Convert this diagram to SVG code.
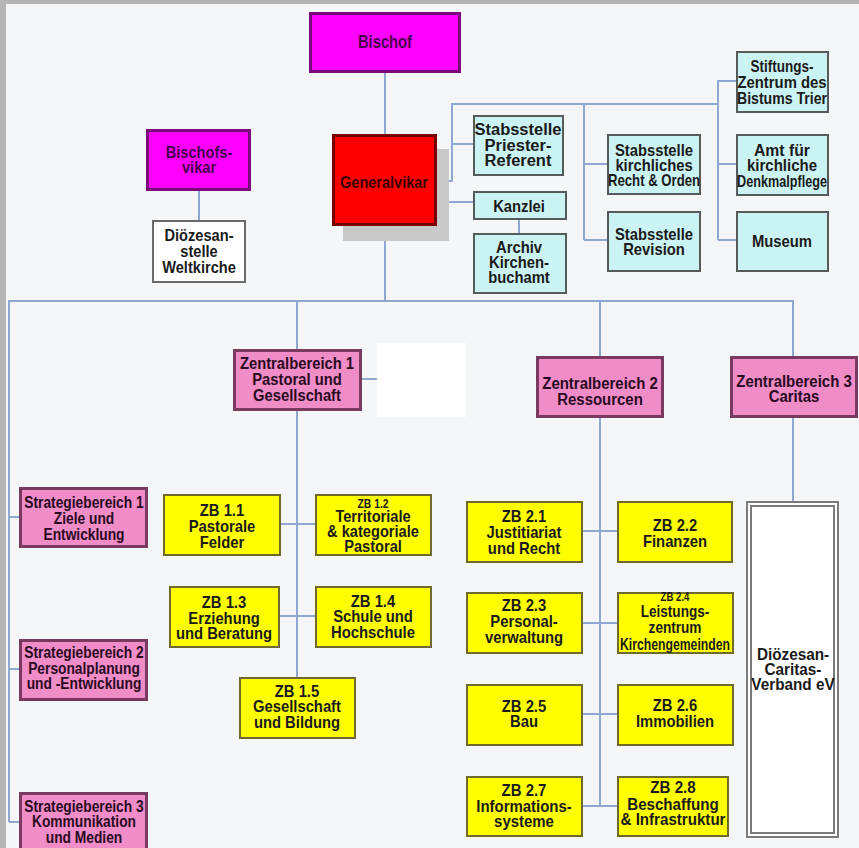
<svg xmlns="http://www.w3.org/2000/svg" width="859" height="848" viewBox="0 0 859 848">
<style>
.t{font-family:"Liberation Sans",Arial,sans-serif;font-weight:bold;font-size:17px;text-anchor:middle;fill:#1a1a1a}
.s{font-size:12px}
.mg{fill:#ff00ff;stroke:#7a0a7a;stroke-width:3}
.mgt{fill:#4a0050}
.red{fill:#ff0000;stroke:#7a0000;stroke-width:3}
.cy{fill:#ccf3f3;stroke:#555a5a;stroke-width:2}
.pk{fill:#f08cc6;stroke:#7a3a60;stroke-width:3}
.pkt{fill:#2a0a22}
.ye{fill:#ffff00;stroke:#6e6a2a;stroke-width:2}
.wh{fill:#ffffff;stroke:#6a6a6a;stroke-width:2}
.c line{stroke:#8ea8d2;stroke-width:2}
</style>
<rect x="0" y="0" width="859" height="848" fill="#b5b5b5"/>
<rect x="6" y="4" width="853" height="844" fill="#f4f6f8"/>
<g class="c">
<line x1="385" y1="73" x2="385" y2="134"/>
<line x1="385" y1="226" x2="385" y2="301"/>
<line x1="199" y1="191" x2="199" y2="220"/>
<line x1="9" y1="301" x2="793" y2="301"/>
<line x1="9" y1="300" x2="9" y2="822"/>
<line x1="9" y1="517" x2="19" y2="517"/>
<line x1="9" y1="669" x2="19" y2="669"/>
<line x1="9" y1="822" x2="19" y2="822"/>
<line x1="297" y1="301" x2="297" y2="349"/>
<line x1="297" y1="411" x2="297" y2="677"/>
<line x1="362" y1="379" x2="377" y2="379"/>
<line x1="281" y1="524" x2="315" y2="524"/>
<line x1="280" y1="616" x2="315" y2="616"/>
<line x1="600" y1="301" x2="600" y2="356"/>
<line x1="600" y1="418" x2="600" y2="806"/>
<line x1="583" y1="531" x2="617" y2="531"/>
<line x1="583" y1="623" x2="617" y2="623"/>
<line x1="583" y1="714" x2="617" y2="714"/>
<line x1="583" y1="806" x2="617" y2="806"/>
<line x1="793" y1="300" x2="793" y2="356"/>
<line x1="793" y1="418" x2="793" y2="501"/>
<line x1="437" y1="181" x2="452" y2="181"/>
<line x1="452" y1="103" x2="452" y2="182"/>
<line x1="451" y1="104" x2="719" y2="104"/>
<line x1="452" y1="144" x2="473" y2="144"/>
<line x1="437" y1="202" x2="473" y2="202"/>
<line x1="519" y1="220" x2="519" y2="233"/>
<line x1="584" y1="104" x2="584" y2="240"/>
<line x1="584" y1="164" x2="607" y2="164"/>
<line x1="584" y1="240" x2="607" y2="240"/>
<line x1="718" y1="80" x2="718" y2="240"/>
<line x1="718" y1="81" x2="736" y2="81"/>
<line x1="718" y1="164" x2="736" y2="164"/>
<line x1="718" y1="240" x2="736" y2="240"/>
</g>
<g id="bischof"><rect class="mg" x="310.5" y="13.5" width="149" height="58"/><g transform="translate(385 0) scale(0.82 1)"><text class="t mgt" x="0" y="48" style="font-size:18px">Bischof</text></g></g>
<g id="bischofsvikar"><rect class="mg" x="147.5" y="130.5" width="102" height="59"/><g transform="translate(199 0) scale(0.86 1)"><text class="t mgt" x="0" y="158">Bischofs-</text><text class="t mgt" x="0" y="173">vikar</text></g></g>
<g id="weltkirche"><rect class="wh" x="153" y="221" width="92" height="61"/><g transform="translate(199 0) scale(0.86 1)"><text class="t" x="0" y="241">Diözesan-</text><text class="t" x="0" y="257">stelle</text><text class="t" x="0" y="273">Weltkirche</text></g></g>
<g id="generalvikar"><rect x="343" y="149" width="106" height="92" fill="#c9c9c9"/><rect class="red" x="333.5" y="135.5" width="102" height="89"/><g transform="translate(384 0) scale(0.855 1)"><text class="t" x="0" y="188" style="fill:#3a0000">Generalvikar</text></g></g>
<g id="priester"><rect class="cy" x="474" y="116" width="89" height="59"/><g transform="translate(518 0) scale(0.97 1)"><text class="t" x="0" y="135">Stabsstelle</text><text class="t" x="0" y="151">Priester-</text><text class="t" x="0" y="166">Referent</text></g></g>
<g id="kanzlei"><rect class="cy" x="474" y="192" width="92" height="27"/><g transform="translate(519 0) scale(0.87 1)"><text class="t" x="0" y="212">Kanzlei</text></g></g>
<g id="archiv"><rect class="cy" x="474" y="234" width="92" height="59"/><g transform="translate(519 0) scale(0.87 1)"><text class="t" x="0" y="253">Archiv</text><text class="t" x="0" y="268">Kirchen-</text><text class="t" x="0" y="283">buchamt</text></g></g>
<g id="kirchrecht"><rect class="cy" x="608" y="135" width="92" height="59"/><g transform="translate(654 0) scale(0.87 1)"><text class="t" x="0" y="156">Stabsstelle</text><text class="t" x="0" y="171">kirchliches</text></g><text class="t" x="654" y="186" textLength="92" lengthAdjust="spacingAndGlyphs">Recht &amp; Orden</text></g>
<g id="revision"><rect class="cy" x="608" y="212" width="92" height="59"/><g transform="translate(654 0) scale(0.87 1)"><text class="t" x="0" y="240">Stabsstelle</text><text class="t" x="0" y="255">Revision</text></g></g>
<g id="stiftung"><rect class="cy" x="737" y="52" width="91" height="60"/><text class="t" x="782" y="72" textLength="63" lengthAdjust="spacingAndGlyphs">Stiftungs-</text><text class="t" x="782" y="88" textLength="89" lengthAdjust="spacingAndGlyphs">Zentrum des</text><text class="t" x="782" y="104" textLength="90" lengthAdjust="spacingAndGlyphs">Bistums Trier</text></g>
<g id="amt"><rect class="cy" x="737" y="135" width="91" height="60"/><text class="t" x="782" y="156" textLength="56" lengthAdjust="spacingAndGlyphs">Amt für</text><text class="t" x="782" y="171" textLength="70" lengthAdjust="spacingAndGlyphs">kirchliche</text><text class="t" x="782" y="187" textLength="90" lengthAdjust="spacingAndGlyphs">Denkmalpflege</text></g>
<g id="museum"><rect class="cy" x="737" y="212" width="91" height="59"/><g transform="translate(782 0) scale(0.87 1)"><text class="t" x="0" y="247">Museum</text></g></g>
<g id="zb1"><rect class="pk" x="234.5" y="350.5" width="126" height="59"/><g transform="translate(297 0) scale(0.87 1)"><text class="t pkt" x="0" y="369">Zentralbereich 1</text><text class="t pkt" x="0" y="385">Pastoral und</text><text class="t pkt" x="0" y="401">Gesellschaft</text></g></g>
<rect x="377" y="343" width="89" height="74" fill="#ffffff"/>
<g id="zb2"><rect class="pk" x="537.5" y="357.5" width="125" height="59"/><g transform="translate(600 0) scale(0.88 1)"><text class="t pkt" x="0" y="389">Zentralbereich 2</text><text class="t pkt" x="0" y="405">Ressourcen</text></g></g>
<g id="zb3"><rect class="pk" x="731.5" y="357.5" width="125" height="59"/><g transform="translate(794 0) scale(0.88 1)"><text class="t pkt" x="0" y="387">Zentralbereich 3</text><text class="t pkt" x="0" y="402">Caritas</text></g></g>
<g id="sb1"><rect class="pk" x="20.5" y="488.5" width="126" height="58"/><g transform="translate(84 0) scale(0.81 1)"><text class="t pkt" x="0" y="508">Strategiebereich 1</text><text class="t pkt" x="0" y="524">Ziele und</text><text class="t pkt" x="0" y="540">Entwicklung</text></g></g>
<g id="sb2"><rect class="pk" x="20.5" y="640.5" width="126" height="59"/><g transform="translate(84 0) scale(0.81 1)"><text class="t pkt" x="0" y="658">Strategiebereich 2</text><text class="t pkt" x="0" y="674">Personalplanung</text><text class="t pkt" x="0" y="689">und -Entwicklung</text></g></g>
<g id="sb3"><rect class="pk" x="20.5" y="793.5" width="126" height="70"/><g transform="translate(84 0) scale(0.81 1)"><text class="t pkt" x="0" y="812">Strategiebereich 3</text><text class="t pkt" x="0" y="827">Kommunikation</text><text class="t pkt" x="0" y="843">und Medien</text></g></g>
<g id="zb11"><rect class="ye" x="164" y="495" width="116" height="60"/><g transform="translate(222 0) scale(0.87 1)"><text class="t" x="0" y="516">ZB 1.1</text><text class="t" x="0" y="532">Pastorale</text><text class="t" x="0" y="548">Felder</text></g></g>
<g id="zb12"><rect class="ye" x="316" y="495" width="115" height="60"/><g transform="translate(373 0) scale(0.86 1)"><text class="t s" x="0" y="508">ZB 1.2</text><text class="t" x="0" y="522">Territoriale</text><text class="t" x="0" y="537">&amp; kategoriale</text><text class="t" x="0" y="552">Pastoral</text></g></g>
<g id="zb13"><rect class="ye" x="170" y="587" width="109" height="60"/><g transform="translate(224 0) scale(0.87 1)"><text class="t" x="0" y="608">ZB 1.3</text><text class="t" x="0" y="624">Erziehung</text><text class="t" x="0" y="639">und Beratung</text></g></g>
<g id="zb14"><rect class="ye" x="316" y="587" width="115" height="60"/><g transform="translate(373 0) scale(0.87 1)"><text class="t" x="0" y="607">ZB 1.4</text><text class="t" x="0" y="622">Schule und</text><text class="t" x="0" y="638">Hochschule</text></g></g>
<g id="zb15"><rect class="ye" x="240" y="678" width="115" height="60"/><g transform="translate(297 0) scale(0.87 1)"><text class="t" x="0" y="697">ZB 1.5</text><text class="t" x="0" y="712">Gesellschaft</text><text class="t" x="0" y="728">und Bildung</text></g></g>
<g id="zb21"><rect class="ye" x="467" y="502" width="115" height="60"/><g transform="translate(524 0) scale(0.87 1)"><text class="t" x="0" y="522">ZB 2.1</text><text class="t" x="0" y="538">Justitiariat</text><text class="t" x="0" y="554">und Recht</text></g></g>
<g id="zb22"><rect class="ye" x="618" y="502" width="114" height="60"/><g transform="translate(675 0) scale(0.87 1)"><text class="t" x="0" y="531">ZB 2.2</text><text class="t" x="0" y="547">Finanzen</text></g></g>
<g id="zb23"><rect class="ye" x="467" y="593" width="115" height="60"/><g transform="translate(524 0) scale(0.87 1)"><text class="t" x="0" y="611">ZB 2.3</text><text class="t" x="0" y="627">Personal-</text><text class="t" x="0" y="643">verwaltung</text></g></g>
<g id="zb24"><rect class="ye" x="618" y="593" width="115" height="60"/><g transform="translate(675 0) scale(0.8 1)"><text class="t s" x="0" y="601">ZB 2.4</text><text class="t" x="0" y="617">Leistungs-</text><text class="t" x="0" y="633">zentrum</text></g><text class="t" x="675" y="650" textLength="110" lengthAdjust="spacingAndGlyphs">Kirchengemeinden</text></g>
<g id="zb25"><rect class="ye" x="467" y="685" width="115" height="60"/><g transform="translate(524 0) scale(0.87 1)"><text class="t" x="0" y="712">ZB 2.5</text><text class="t" x="0" y="727">Bau</text></g></g>
<g id="zb26"><rect class="ye" x="618" y="685" width="115" height="60"/><g transform="translate(675 0) scale(0.87 1)"><text class="t" x="0" y="711">ZB 2.6</text><text class="t" x="0" y="727">Immobilien</text></g></g>
<g id="zb27"><rect class="ye" x="467" y="777" width="115" height="59"/><g transform="translate(524 0) scale(0.88 1)"><text class="t" x="0" y="796">ZB 2.7</text><text class="t" x="0" y="812">Informations-</text><text class="t" x="0" y="827">systeme</text></g></g>
<g id="zb28"><rect class="ye" x="618" y="777" width="110" height="59"/><g transform="translate(673 0) scale(0.89 1)"><text class="t" x="0" y="793">ZB 2.8</text><text class="t" x="0" y="810">Beschaffung</text><text class="t" x="0" y="825">&amp; Infrastruktur</text></g></g>
<g id="caritas"><rect x="747" y="502" width="91" height="335" fill="#ffffff" stroke="#7a7a7a" stroke-width="2"/><rect x="751" y="506" width="83" height="327" fill="none" stroke="#7a7a7a" stroke-width="2"/><g transform="translate(793 0) scale(0.9 1)"><text class="t" x="0" y="660">Diözesan-</text><text class="t" x="0" y="675">Caritas-</text><text class="t" x="0" y="690">Verband eV</text></g></g>
</svg>
